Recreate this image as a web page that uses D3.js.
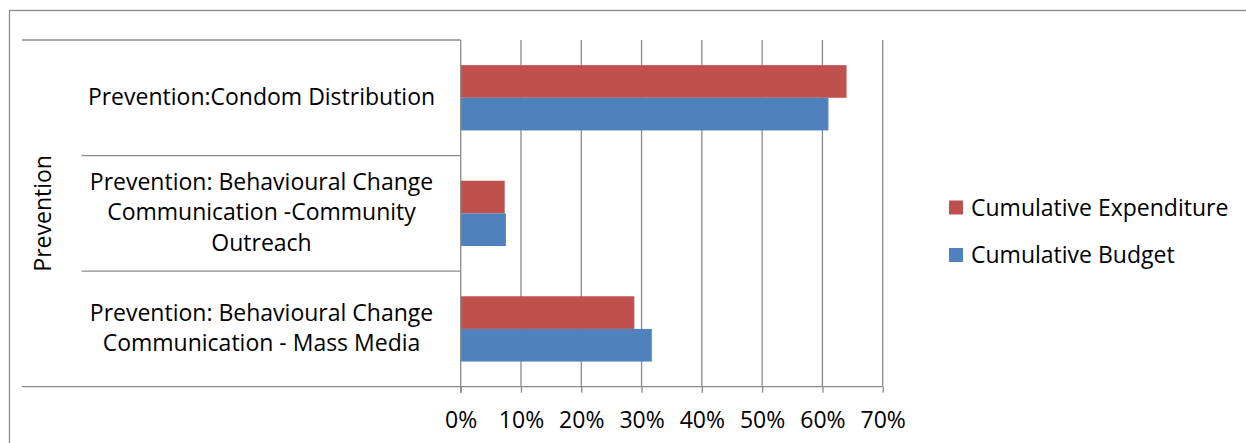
<!DOCTYPE html>
<html>
<head>
<meta charset="utf-8">
<script src="https://cdn.jsdelivr.net/npm/d3@7"></script>
<style>
  html, body { margin: 0; padding: 0; background: #fff; }
  svg { display: block; }
  text { font-family: "Open Sans", "Noto Sans", sans-serif; fill: #000; }
</style>
</head>
<body>
<svg id="chart" width="1246" height="443"></svg>
<script>
// Category labels (top to bottom), each split into display lines
const categories = [
  ["Prevention:Condom Distribution"],
  ["Prevention: Behavioural Change", "Communication -Community", "Outreach"],
  ["Prevention: Behavioural Change", "Communication - Mass Media"]
];
const groupLabel = "Prevention";
const seriesNames = ["Cumulative Expenditure", "Cumulative Budget"];
const expenditure = [0.64, 0.073, 0.288];
const budget = [0.61, 0.075, 0.317];
const tickValues = [0, 0.1, 0.2, 0.3, 0.4, 0.5, 0.6, 0.7];
const colors = ["#C0504D", "#4F81BD"];

const svg = d3.select("#chart");
const gridColor = "#8a8a8a";
const fontSize = 23;

// Outer chart frame (extends past the right/bottom edges)
svg.append("rect")
  .attr("x", 9.5).attr("y", 10.5)
  .attr("width", 1250).attr("height", 450)
  .attr("fill", "none").attr("stroke", gridColor).attr("stroke-width", 1.3);

const plot = { left: 460.7, right: 882.7, top: 40, bottom: 386.7 };
const labelLeft = 22;      // outer edge of the group label column
const innerLeft = 81.5;    // start of dividers between categories

const x = d3.scaleLinear().domain([0, 0.7]).range([plot.left, plot.right]);
const y = d3.scaleBand()
  .domain(d3.range(categories.length))
  .range([plot.top, plot.bottom])
  .paddingInner(0.435)
  .paddingOuter(0.2175);
const ySeries = d3.scaleBand().domain([0, 1]).range([0, y.bandwidth()]);

// Vertical gridlines
svg.append("g").selectAll("line")
  .data(tickValues.slice(1))
  .join("line")
  .attr("x1", d => x(d)).attr("x2", d => x(d))
  .attr("y1", plot.top).attr("y2", plot.bottom)
  .attr("stroke", gridColor).attr("stroke-width", 1.3);

// Bars
const seriesData = [expenditure, budget];
seriesData.forEach((vals, si) => {
  svg.append("g").selectAll("rect")
    .data(vals)
    .join("rect")
    .attr("x", x(0))
    .attr("y", (d, i) => y(i) + ySeries(si))
    .attr("width", d => x(d) - x(0))
    .attr("height", ySeries.bandwidth())
    .attr("fill", colors[si]);
});

// Value axis along the bottom with outward ticks
const xAxis = d3.axisBottom(x)
  .tickValues(tickValues)
  .tickFormat(d3.format(".0%"))
  .tickSize(6)
  .tickSizeOuter(0)
  .tickPadding(19);
const xg = svg.append("g")
  .attr("transform", `translate(0,${plot.bottom})`)
  .call(xAxis);
xg.select(".domain").remove();
xg.selectAll(".tick line").attr("stroke", gridColor).attr("stroke-width", 1.3);
xg.selectAll(".tick text")
  .attr("font-size", fontSize)
  .attr("font-family", "'Open Sans', sans-serif")
  .attr("fill", "#000");

// Horizontal baseline spanning label area and plot
svg.append("line")
  .attr("x1", labelLeft).attr("x2", plot.right)
  .attr("y1", plot.bottom).attr("y2", plot.bottom)
  .attr("stroke", gridColor).attr("stroke-width", 1.3);

// Category axis (vertical) and category divider lines
svg.append("line")
  .attr("x1", plot.left).attr("x2", plot.left)
  .attr("y1", plot.top).attr("y2", plot.bottom + 6)
  .attr("stroke", gridColor).attr("stroke-width", 1.3);
const step = y.step();
const dividers = d3.range(categories.length).map(i => plot.top + i * step);
svg.append("g").selectAll("line")
  .data(dividers)
  .join("line")
  .attr("x1", (d, i) => i === 0 ? labelLeft : innerLeft)
  .attr("x2", plot.left)
  .attr("y1", d => d).attr("y2", d => d)
  .attr("stroke", gridColor).attr("stroke-width", 1.3);

// Category labels
const lineH = 30.5;
const labelCx = 261.5;
const lg = svg.append("g");
categories.forEach((lines, i) => {
  const cy = plot.top + i * step + step / 2 - 1;
  const t = lg.append("text")
    .attr("text-anchor", "middle")
    .attr("font-size", fontSize);
  lines.forEach((ln, k) => {
    t.append("tspan")
      .attr("x", labelCx)
      .attr("y", cy + (k - (lines.length - 1) / 2) * lineH)
      .attr("dy", "0.35em")
      .text(ln);
  });
});

// Group label, rotated
svg.append("text")
  .attr("transform", `translate(42.5,${(plot.top + plot.bottom) / 2}) rotate(-90)`)
  .attr("text-anchor", "middle")
  .attr("dy", "0.35em")
  .attr("font-size", fontSize)
  .text(groupLabel);

// Legend
const legend = svg.append("g");
const legendY = [207.5, 255];
seriesNames.forEach((name, i) => {
  legend.append("rect")
    .attr("x", 949).attr("y", legendY[i] - 7)
    .attr("width", 14).attr("height", 14)
    .attr("fill", colors[i]);
  legend.append("text")
    .attr("x", 971).attr("y", legendY[i])
    .attr("dy", "0.35em")
    .attr("font-size", fontSize)
    .text(name);
});
</script>
</body>
</html>
